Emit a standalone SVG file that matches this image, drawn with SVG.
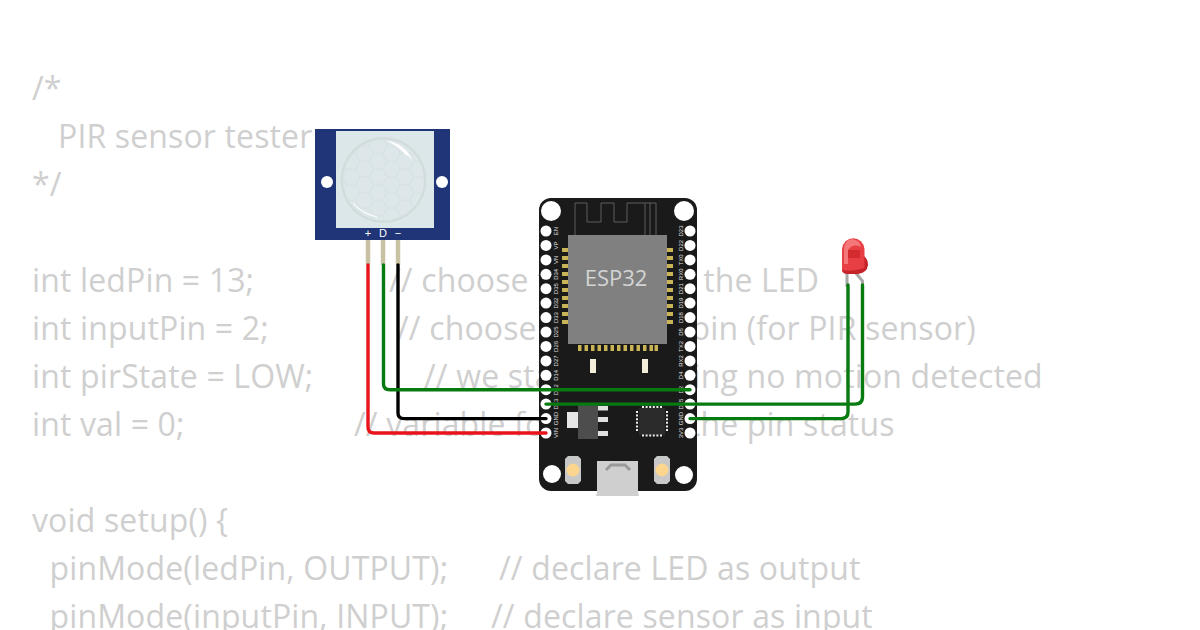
<svg xmlns="http://www.w3.org/2000/svg" width="1200" height="630" viewBox="0 0 1200 630">
<style>
.c{font-family:"Open Sans","Noto Sans",sans-serif;font-size:32px;letter-spacing:.14px;fill:#cfcfcf}
.p{fill:#fff}
.l{font-family:"Liberation Sans",Arial,sans-serif;font-size:6px;fill:#e0e0e0;text-anchor:middle}
.w{fill:none;stroke-width:3.4;stroke-linecap:round;stroke-linejoin:round}
.pad{fill:#c9b458}
.m{font-family:"Liberation Sans",Arial,sans-serif;font-size:11px;fill:#fff;text-anchor:middle}
</style>
<defs>
<pattern id="hex" width="27" height="15.6" patternUnits="userSpaceOnUse" x="342" y="138">
<path d="M0 7.800L4.500 0H13.500L18 7.800L13.500 15.600H4.500ZM18 7.800H27" fill="none" stroke="#d5e0e2" stroke-width="1"/>
</pattern>
</defs>
<rect width="1200" height="630" fill="#fff"/>
<g id="code">
<text class="c" x="32" y="100">/*</text>
<text class="c" x="58" y="148">PIR sensor tester</text>
<text class="c" x="32" y="196">*/</text>
<text class="c" x="32" y="292">int ledPin = 13;</text>
<text class="c" x="389" y="292">// choose the pin for the LED</text>
<text class="c" x="32" y="340">int inputPin = 2;</text>
<text class="c" x="397" y="340">// choose the input pin (for PIR sensor)</text>
<text class="c" x="32" y="388">int pirState = LOW;</text>
<text class="c" x="424" y="388">// we start, assuming no motion detected</text>
<text class="c" x="32" y="436">int val = 0;</text>
<text class="c" x="354" y="436">// variable for reading the pin status</text>
<text class="c" x="32" y="532">void setup() {</text>
<text class="c" x="49.500" y="580">pinMode(ledPin, OUTPUT);</text>
<text class="c" x="499" y="580">// declare LED as output</text>
<text class="c" x="49.500" y="628">pinMode(inputPin, INPUT);</text>
<text class="c" x="491" y="628">// declare sensor as input</text>
</g>
<g id="pir">
<rect x="315" y="129" width="135" height="111" fill="#1f3578"/>
<rect x="336" y="131" width="98" height="97" fill="#dce7ea"/>
<circle cx="383.500" cy="180" r="43" fill="#d2dcdd"/>
<circle cx="383.500" cy="180" r="40.500" fill="#dde7e9"/>
<circle cx="383.500" cy="180" r="40.500" fill="url(#hex)"/>
<path d="M387 141Q410 143 420 178Q414 157 406 155Q398 146 387 141Z" fill="#fff"/>
<path d="M353 203Q362 213 377 217Q362 214 353 203Z" fill="#fff" stroke="#fff" stroke-width=".7"/>
<circle cx="327" cy="182" r="6" fill="#fff"/>
<circle cx="442" cy="182" r="6" fill="#fff"/>
<text class="m" x="368" y="237">+</text>
<text class="m" x="383" y="237">D</text>
<text class="m" x="398" y="237">−</text>
<path d="M368 240V265M383 240V265M398 240V265" stroke="#c9c2a2" stroke-width="4.500" fill="none"/>
</g>
<g id="esp32">
<rect x="539" y="198" width="158" height="293" rx="12" fill="#1a1a1a"/>
<circle cx="551" cy="211" r="10" fill="#fff"/>
<circle cx="684" cy="211" r="10" fill="#fff"/>
<circle cx="552" cy="474" r="9" fill="#fff"/>
<circle cx="684" cy="475" r="9" fill="#fff"/>
<path d="M575 235V203H587V222H601V203H614V222H627V203H656V235M645 203V235M650 203V235" fill="none" stroke="#5c5c5c" stroke-width="1"/>
<g class="pad">
<rect x="562" y="248" width="6" height="4"/><rect x="562" y="256" width="6" height="4"/><rect x="562" y="264" width="6" height="4"/><rect x="562" y="272" width="6" height="4"/><rect x="562" y="280" width="6" height="4"/><rect x="562" y="288" width="6" height="4"/><rect x="562" y="296" width="6" height="4"/><rect x="562" y="304" width="6" height="4"/><rect x="562" y="312" width="6" height="4"/><rect x="562" y="320" width="6" height="4"/>
<rect x="667" y="248" width="6" height="4"/><rect x="667" y="256" width="6" height="4"/><rect x="667" y="264" width="6" height="4"/><rect x="667" y="272" width="6" height="4"/><rect x="667" y="280" width="6" height="4"/><rect x="667" y="288" width="6" height="4"/><rect x="667" y="296" width="6" height="4"/><rect x="667" y="304" width="6" height="4"/><rect x="667" y="312" width="6" height="4"/><rect x="667" y="320" width="6" height="4"/>
<rect x="578" y="345" width="3.500" height="6"/><rect x="584.500" y="345" width="3.500" height="6"/><rect x="591" y="345" width="3.500" height="6"/><rect x="597.500" y="345" width="3.500" height="6"/><rect x="604" y="345" width="3.500" height="6"/><rect x="610.500" y="345" width="3.500" height="6"/><rect x="617" y="345" width="3.500" height="6"/><rect x="623.500" y="345" width="3.500" height="6"/><rect x="630" y="345" width="3.500" height="6"/><rect x="636.500" y="345" width="3.500" height="6"/><rect x="643" y="345" width="3.500" height="6"/><rect x="649.500" y="345" width="3.500" height="6"/><rect x="654.500" y="345" width="3.500" height="6"/>
</g>
<rect x="568" y="235" width="99" height="109" fill="#808080"/>
<text x="616" y="286" font-family="Open Sans,sans-serif" font-size="22" fill="#d4d4d4" text-anchor="middle">ESP32</text>
<rect x="590" y="359" width="6" height="14" fill="#f2ecd8"/>
<rect x="642" y="359" width="6" height="14" fill="#f2ecd8"/>
<rect x="567" y="412" width="11" height="16" fill="#e6e6e6"/>
<rect x="598" y="406" width="10" height="4.500" fill="#e0e0e0"/>
<rect x="598" y="417" width="10" height="5" fill="#e0e0e0"/>
<rect x="598" y="431" width="10" height="5" fill="#e0e0e0"/>
<rect x="578" y="405" width="20" height="34" fill="#4d4d4d"/>
<rect x="639" y="408" width="26" height="27" fill="#2b2b2b"/>
<path d="M642 407H663M637 411V432M667 411V432M642 435.500H663" stroke="#eee" stroke-width="2" stroke-dasharray="2 1.600" fill="none"/>
<path d="M568 456H578L581 459V481L578 484H568L565 481V459Z" fill="#c8c8c8"/>
<circle cx="573" cy="470" r="6.500" fill="#fcd58f"/>
<path d="M657 456H667L670 459V481L667 484H657L654 481V459Z" fill="#c8c8c8"/>
<circle cx="662" cy="470" r="6.500" fill="#fcd58f"/>
<path d="M597 461H638V492L639 496H596L597 492Z" fill="#cfcfcf"/>
<path d="M606 470L611 465H625L630 470" fill="none" stroke="#9a9a9a" stroke-width="3"/>
<g class="p">
<circle cx="546" cy="231" r="5.500"/><circle cx="546" cy="245.400" r="5.500"/><circle cx="546" cy="259.900" r="5.500"/><circle cx="546" cy="274.300" r="5.500"/><circle cx="546" cy="288.700" r="5.500"/><circle cx="546" cy="303.100" r="5.500"/><circle cx="546" cy="317.600" r="5.500"/><circle cx="546" cy="332" r="5.500"/><circle cx="546" cy="346.400" r="5.500"/><circle cx="546" cy="360.900" r="5.500"/><circle cx="546" cy="375.300" r="5.500"/><circle cx="546" cy="389.700" r="5.500"/><circle cx="546" cy="404.100" r="5.500"/><circle cx="546" cy="418.600" r="5.500"/><circle cx="546" cy="433" r="5.500"/>
<circle cx="690" cy="231" r="5.500"/><circle cx="690" cy="245.400" r="5.500"/><circle cx="690" cy="259.900" r="5.500"/><circle cx="690" cy="274.300" r="5.500"/><circle cx="690" cy="288.700" r="5.500"/><circle cx="690" cy="303.100" r="5.500"/><circle cx="690" cy="317.600" r="5.500"/><circle cx="690" cy="332" r="5.500"/><circle cx="690" cy="346.400" r="5.500"/><circle cx="690" cy="360.900" r="5.500"/><circle cx="690" cy="375.300" r="5.500"/><circle cx="690" cy="389.700" r="5.500"/><circle cx="690" cy="404.100" r="5.500"/><circle cx="690" cy="418.600" r="5.500"/><circle cx="690" cy="433" r="5.500"/>
</g>
<g class="l">
<text transform="translate(558 231) rotate(-90)">EN</text><text transform="translate(558 245.400) rotate(-90)">VP</text><text transform="translate(558 259.900) rotate(-90)">VN</text><text transform="translate(558 274.300) rotate(-90)">D34</text><text transform="translate(558 288.700) rotate(-90)">D35</text><text transform="translate(558 303.100) rotate(-90)">D32</text><text transform="translate(558 317.600) rotate(-90)">D33</text><text transform="translate(558 332) rotate(-90)">D25</text><text transform="translate(558 346.400) rotate(-90)">D26</text><text transform="translate(558 360.900) rotate(-90)">D27</text><text transform="translate(558 375.300) rotate(-90)">D14</text><text transform="translate(558 389.700) rotate(-90)">D12</text><text transform="translate(558 404.100) rotate(-90)">D13</text><text transform="translate(558 418.600) rotate(-90)">GND</text><text transform="translate(558 433) rotate(-90)">VIN</text>
<text transform="translate(683 231) rotate(-90)">D23</text><text transform="translate(683 245.400) rotate(-90)">D22</text><text transform="translate(683 259.900) rotate(-90)">TX0</text><text transform="translate(683 274.300) rotate(-90)">RX0</text><text transform="translate(683 288.700) rotate(-90)">D21</text><text transform="translate(683 303.100) rotate(-90)">D19</text><text transform="translate(683 317.600) rotate(-90)">D18</text><text transform="translate(683 332) rotate(-90)">D5</text><text transform="translate(683 346.400) rotate(-90)">TX2</text><text transform="translate(683 360.900) rotate(-90)">RX2</text><text transform="translate(683 375.300) rotate(-90)">D4</text><text transform="translate(683 389.700) rotate(-90)">D2</text><text transform="translate(683 404.100) rotate(-90)">D15</text><text transform="translate(683 418.600) rotate(-90)">GND</text><text transform="translate(683 433) rotate(-90)">3V3</text>
</g>
</g>
<g id="led">
<path d="M847 272V287M855 272L862.500 281V287" fill="none" stroke="#a8a8a8" stroke-width="3"/>
<path d="M842 268Q841 274 848 274H858Q867 273 868 265Q868 259 864 256V268Z" fill="#c4232a"/>
<path d="M842 270V249A11.300 12 0 0 1 864.500 249V268Q853 272 842 270Z" fill="#e83f45"/>
<path d="M844 264V250Q844 240 852 239Q860 240 861 247Q853 243 848 250V264Z" fill="#f4777a"/>
<rect x="848" y="250" width="12" height="8" fill="#d42c2e"/>
</g>
<g id="connectors">
<path class="w" stroke="#e8131b" d="M368 265V427Q368 433 374 433H546"/>
<path class="w" stroke="#000" d="M398 265V413Q398 418.600 404 418.600H546"/>
<path class="w" stroke="#077a10" d="M383.500 265V384Q383.500 389.700 390 389.700H690"/>
<path class="w" stroke="#077a10" d="M862.500 285V397Q862.500 404.100 855 404.100H546"/>
<path class="w" stroke="#077a10" d="M848 285V412Q848 418.600 841 418.600H690"/>
</g>
</svg>
